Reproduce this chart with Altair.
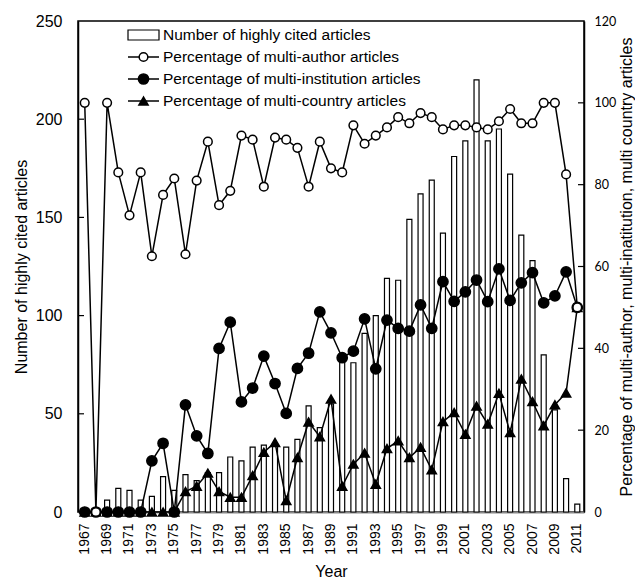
import altair as alt
import pandas as pd

years = [str(y) for y in range(1967, 2012)]
articles = [1, 1, 6, 12, 11, 6, 8, 18, 11, 19, 16, 20, 20, 28, 26, 33, 34, 34, 33, 37,
            54, 43, 55, 78, 76, 91, 100, 119, 118, 149, 162, 169, 142, 181, 189, 220, 189,
            195, 172, 141, 128, 80, 52, 17, 4]
multi_author = [100, 0, 100, 83, 72.5, 83, 62.5, 77.5, 81.5, 63, 81, 90.5, 75, 78.5, 92, 91,
                79.5, 91.5, 91, 89, 79.5, 90.5, 84, 83, 94.5, 90, 92, 94, 96.5, 95, 97.5, 96.5,
                93.5, 94.5, 94.5, 94, 93.5, 95.5, 98.5, 95, 95, 100, 100, 82.5, 50]
multi_institution = [0, 0, 0, 0, 0, 0, 12.5, 16.8, 0, 26.2, 18.6, 14.3, 40, 46.4, 26.9, 30.3,
                     38.1, 31.4, 24.1, 35.1, 38.8, 48.9, 43.8, 37.7, 39.3, 47.2, 35.0, 46.9, 44.9,
                     44.2, 50.6, 44.9, 56.3, 51.5, 53.8, 56.7, 51.4, 59.4, 51.7, 56, 58.5, 51.1,
                     52.8, 58.7, 50]
multi_country = [0, 0, 0, 0, 0, 0, 0, 0, 0, 5.0, 6.3, 9.5, 5.0, 3.6, 3.6, 8.9, 14.6, 17, 2.8,
                 13.3, 22, 18.4, 27.6, 6.3, 11.7, 14.4, 6.8, 15.5, 17.4, 13.3, 15.8, 10.3, 22.1,
                 24.3, 19, 25.9, 21.5, 29, 19.4, 32.5, 27, 21.1, 26.2, 29.1, 50]

bar_label = "Number of highly cited articles"
series_names = ["Percentage of multi-author articles",
                "Percentage of multi-institution articles",
                "Percentage of multi-country articles"]
left_title = "Number of highly cited articles"
right_title = "Percentage of multi-author, multi-inatitution, multi country articles"
x_title = "Year"
left_ticks = [0, 50, 100, 150, 200, 250]
right_ticks = [0, 20, 40, 60, 80, 100, 120]
x_labels = years[::2]

TOTAL_W, TOTAL_H = 627, 572
PLOT_W = 506
ARIAL = "Liberation Sans, Arial, sans-serif"

bars_df = pd.DataFrame({"Year": years, "Articles": articles})
series_vals = [multi_author, multi_institution, multi_country]
series_dfs = [pd.DataFrame({"Year": years, "Pct": v, "Series": n})
              for v, n in zip(series_vals, series_names)]
lines_df = pd.concat(series_dfs, ignore_index=True)

x_axis = alt.Axis(values=x_labels, labelAngle=270, labelFont=ARIAL, labelFontSize=14,
                  labelPadding=11, ticks=False, domainColor="#888888", domainWidth=2,
                  title=x_title, titleFont=ARIAL, titleFontSize=16, titleFontWeight="normal",
                  titlePadding=9, labelColor="black", titleColor="black")
x_scale = alt.Scale(paddingInner=0, paddingOuter=0.1)

def left_scale():
    return alt.Scale(domain=[0, 250], nice=False, zero=True)

def right_scale():
    return alt.Scale(domain=[0, 120], nice=False, zero=True)

left_axis = alt.Axis(values=left_ticks, orient="left", ticks=False, grid=False,
                     domainColor="black", domainWidth=1.5,
                     labelFont=ARIAL, labelFontSize=16, labelPadding=16, labelColor="black",
                     title=left_title, titleFont=ARIAL, titleFontSize=16,
                     titleFontWeight="normal", titlePadding=6, titleColor="black")
right_axis = alt.Axis(values=right_ticks, orient="right", ticks=False, grid=False,
                      domainColor="black", domainWidth=1.5,
                      labelFont="Lato", labelFontSize=12.5, labelPadding=10, labelColor="black",
                      title=right_title, titleFont=ARIAL, titleFontSize=16, titleAngle=270,
                      titleBaseline="top",
                      titleFontWeight="normal", titlePadding=3, titleColor="black")

X = alt.X("Year:O", scale=x_scale, axis=x_axis, sort=years)

bars = alt.Chart(bars_df).mark_bar(fill="white", stroke="black", strokeWidth=1.2, width=5).encode(
    x=X,
    y=alt.Y("Articles:Q", scale=left_scale(), axis=left_axis),
)

left_tick_df = pd.DataFrame({"v": left_ticks[1:-1]})
left_tick_rules = alt.Chart(left_tick_df).mark_rule(color="black", strokeWidth=1.2).encode(
    y=alt.Y("v:Q", scale=left_scale(), axis=None),
    x=alt.value(0), x2=alt.value(6),
)

lines = alt.Chart(lines_df).mark_line(color="black", strokeWidth=1.5).encode(
    x=X,
    y=alt.Y("Pct:Q", scale=right_scale(), axis=right_axis),
    detail="Series:N",
)

marker_styles = [("circle", "white", 75), ("circle", "black", 105), ("triangle-up", "black", 85)]
point_layers = []
for df, (shape, fill, size) in zip(series_dfs, marker_styles):
    point_layers.append(
        alt.Chart(df).mark_point(shape=shape, filled=True, fill=fill, stroke="black",
                                 strokeWidth=1.5, size=size, opacity=1).encode(
            x=X,
            y=alt.Y("Pct:Q", scale=right_scale(), axis=None),
        )
    )

right_tick_df = pd.DataFrame({"v": right_ticks[1:-1]})
right_tick_rules = alt.Chart(right_tick_df).mark_rule(color="black", strokeWidth=1.2).encode(
    y=alt.Y("v:Q", scale=right_scale(), axis=None),
    x=alt.value(PLOT_W - 6), x2=alt.value(PLOT_W),
)

# legend (manual, pixel placement inside the plot area)
LX0, LX1, LMX, LTX = 50, 81, 65.5, 85
rows = [14, 36, 58, 80]
legend_labels = [bar_label] + series_names
legend_layers = []
legend_layers.append(
    alt.Chart(alt.Data(values=[{"k": 0}])).mark_rect(fill="white", stroke="black", strokeWidth=1.2).encode(
        x=alt.value(LX0), x2=alt.value(LX1), y=alt.value(rows[0] - 5), y2=alt.value(rows[0] + 5))
)
for i, (shape, fill, size) in enumerate(marker_styles):
    r = rows[i + 1]
    legend_layers.append(
        alt.Chart(alt.Data(values=[{"k": 0}])).mark_rule(color="black", strokeWidth=1.5).encode(
            x=alt.value(LX0), x2=alt.value(LX1), y=alt.value(r))
    )
    legend_layers.append(
        alt.Chart(alt.Data(values=[{"k": 0}])).mark_point(
            shape=shape, filled=True, fill=fill, stroke="black", strokeWidth=1.5,
            size=size, opacity=1).encode(x=alt.value(LMX), y=alt.value(r))
    )
for lab, r in zip(legend_labels, rows):
    legend_layers.append(
        alt.Chart(alt.Data(values=[{"label": lab}])).mark_text(
            align="left", baseline="middle", font=ARIAL, fontSize=15.5, color="black").encode(
            x=alt.value(LTX), y=alt.value(r), text="label:N")
    )

chart = alt.layer(
    bars, lines, left_tick_rules, right_tick_rules, *point_layers[::-1], *legend_layers
).resolve_scale(y="independent").properties(
    width=TOTAL_W, height=TOTAL_H,
    autosize=alt.AutoSizeParams(type="fit", contains="padding"),
    padding={"left": 5, "top": 5, "right": 0, "bottom": 0},
    background="white",
).configure_view(stroke="black", strokeWidth=1.5)

chart.save("out.html", embed_options={"renderer": "svg", "actions": False})
